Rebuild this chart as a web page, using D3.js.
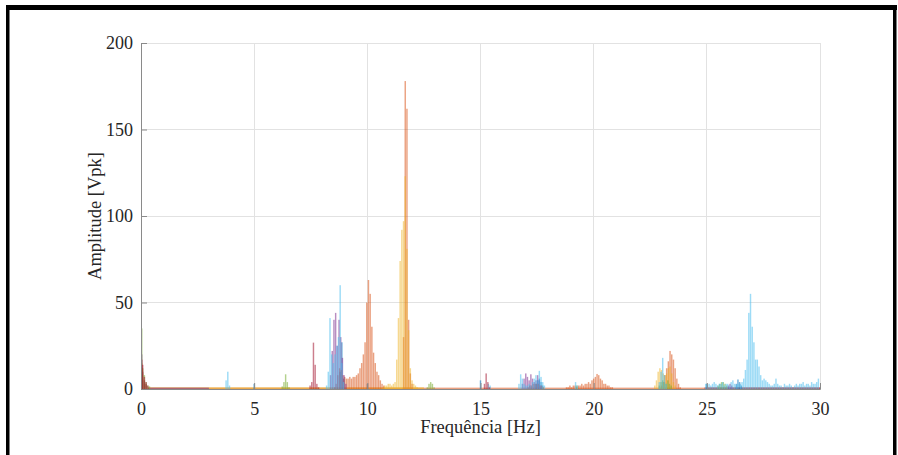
<!DOCTYPE html>
<html>
<head>
<meta charset="utf-8">
<script src="https://cdn.jsdelivr.net/npm/d3@7"></script>
<style>
  html, body { margin: 0; padding: 0; background: #fff; }
  svg { display: block; }
  text { font-family: "Liberation Serif", "DejaVu Serif", serif; fill: #262626; }
</style>
</head>
<body>
<svg id="chart" width="898" height="455"></svg>
<script>
// Spectrum bin spacing (Hz)
const freqStep = 0.075;

// Axis ticks
const xTicks = [0, 5, 10, 15, 20, 25, 30];
const yTicks = [0, 50, 100, 150, 200];

// Each series: list of [start frequency (Hz), amplitudes (Vpk) at consecutive bins]
const blueSegs = [
  [5.0, [3]], [10.0, [3]], [15.0, [5]],
  [8.8, [10, 27, 6]],
  [17.45, [3, 5, 6, 4, 2]],
  [25.0, [3]],
  [26.3, [3, 5.5, 4, 2]]
];
const orangeSegs = [
  [0, [12, 6, 3, 2]],
  [8.55, [1, 3, 8, 12, 11, 8, 7, 6, 6, 7, 6, 7, 7, 8, 9, 12, 15, 20, 27, 50, 63, 55, 36, 21, 15, 10, 8, 5, 3, 2]],
  [11.6, [30, 178, 162, 40, 9, 3]],
  [17.1, [1, 2, 2, 3, 3, 3, 3, 2, 2, 1]],
  [18.8, [1, 1, 2, 1, 2, 2, 1, 2, 2, 3, 2, 3, 3, 4, 3, 5, 6, 7, 8.7, 8, 6, 5, 3, 3, 2, 2, 1, 1]],
  [23.0, [2, 4, 8, 12, 16, 22, 20, 17, 12, 6, 3, 1]]
];
const yellowSegs = [
  [0, [15, 9, 5, 3]],
  [10.7, [1, 2, 2, 3, 3, 2, 3, 4, 17, 41, 74, 92, 97, 123, 81, 34, 12, 5, 3, 2, 1]],
  [22.7, [2, 5, 10, 12, 11, 9, 8, 9, 12, 13, 9, 4, 2]]
];
const purpleSegs = [
  [0, [20, 10, 5, 3]],
  [8.375, [8, 22, 40, 44, 25, 40, 30, 18, 8, 3]],
  [16.85, [3, 6, 9, 7, 5, 8.5, 6, 4, 5, 8, 5, 2]],
  [25.95, [2, 3, 2]]
];
const greenSegs = [
  [0, [35, 12, 8, 4, 2, 1.5]],
  [6.24, [1.5, 4, 8.5, 4, 1]],
  [12.65, [1, 3, 4, 3, 1]],
  [19.25, [2]],
  [22.9, [2, 4, 5, 4, 3, 5, 3, 2]],
  [25.5, [2, 3, 4, 4, 3, 2]]
];
const lightBlueSegs = [
  [3.76, [5, 10, 2]],
  [8.2, [2, 10, 41, 20, 15, 20, 25, 30, 60, 15, 4]],
  [15.35, [3, 2]],
  [16.7, [3, 8.5, 6, 3, 2, 2, 3, 2, 4, 6, 8, 5, 10.5, 7, 4, 2]],
  [19.2, [4, 2]],
  [22.9, [4, 10, 18, 8, 3]],
  [24.95, [3, 2, 3, 2, 3, 4, 3, 2, 3, 3, 4, 2, 3, 3, 2, 4, 5, 3, 2, 3]],
  [26.48, [3, 4, 6, 11, 17, 44, 55, 36, 27, 17, 17, 13, 8, 5, 6, 5, 4, 3]],
  [27.83, [2, 2, 3, 6, 3, 2, 2, 1, 3, 2, 2, 3, 2, 1, 2, 3, 2, 3, 3, 4, 2, 3, 3, 2, 4, 3, 3, 4, 6]]
];
const darkRedSegs = [
  [0, [17, 14, 7, 4, 2]],
  [7.47, [2, 4, 26.8, 14, 3, 1]],
  [15.175, [3, 9, 4, 1]]
];

// Broadband noise floor per series: [series index, from Hz, to Hz, level Vpk]
const noiseFloor = [
  [1, 0.3, 30, 0.8],
  [2, 0.3, 12.5, 1.0],
  [3, 0.3, 3, 0.8],
  [6, 24.9, 30, 1.0]
];

const seriesSegs = [blueSegs, orangeSegs, yellowSegs, purpleSegs, greenSegs, lightBlueSegs, darkRedSegs];
const seriesColors = ["#0072BD", "#D95319", "#EDB120", "#7E2F8E", "#77AC30", "#4DBEEE", "#A2142F"];

const svg = d3.select("#chart");

// Outer frame
const frame = svg.append("g");
frame.append("rect").attr("x", 6).attr("y", 5).attr("width", 891).attr("height", 5).attr("fill", "#000");
frame.append("rect").attr("x", 6).attr("y", 5).attr("width", 3.5).attr("height", 450).attr("fill", "#000");
frame.append("rect").attr("x", 893).attr("y", 5).attr("width", 3.5).attr("height", 450).attr("fill", "#000");

const plotL = 141, plotR = 820, plotT = 43, plotB = 389;
const x = d3.scaleLinear().domain([0, 30]).range([plotL, plotR]);
const y = d3.scaleLinear().domain([0, 200]).range([plotB, plotT]);

// Grid
const grid = svg.append("g");
grid.selectAll("line.gx").data(xTicks.filter(d => d > 0)).join("line")
  .attr("x1", d => x(d)).attr("x2", d => x(d)).attr("y1", plotT).attr("y2", plotB)
  .attr("stroke", "#e2e2e2").attr("stroke-width", 1).attr("shape-rendering", "crispEdges");
grid.selectAll("line.gy").data(yTicks.filter(d => d > 0)).join("line")
  .attr("y1", d => y(d)).attr("y2", d => y(d)).attr("x1", plotL).attr("x2", plotR)
  .attr("stroke", "#e2e2e2").attr("stroke-width", 1).attr("shape-rendering", "crispEdges");

// Bars
const barW = x(freqStep * 0.85) - x(0);
const plot = svg.append("g");
noiseFloor.forEach(([si, f0, f1, lvl]) => {
  plot.append("rect")
    .attr("x", x(f0)).attr("width", x(f1) - x(f0))
    .attr("y", y(lvl)).attr("height", y(0) - y(lvl))
    .attr("fill", seriesColors[si]).attr("fill-opacity", 0.55);
});
seriesSegs.forEach((segs, si) => {
  const pts = [];
  segs.forEach(([f0, vals]) => vals.forEach((v, i) => pts.push({ f: f0 + i * freqStep, v })));
  plot.append("g").selectAll("rect").data(pts).join("rect")
    .attr("x", d => Math.max(plotL, x(d.f) - barW / 2))
    .attr("width", barW)
    .attr("y", d => y(d.v))
    .attr("height", d => y(0) - y(d.v))
    .attr("fill", seriesColors[si])
    .attr("fill-opacity", si === 2 ? 0.5 : 0.55);
});

// Axes (ticks pointing inward)
const axisColor = "#8a8a8a";
const xAxis = svg.append("g").attr("transform", `translate(0,${plotB})`)
  .call(d3.axisBottom(x).tickValues(xTicks).tickSize(-6).tickPadding(13).tickFormat(d3.format("d")));
const yAxis = svg.append("g").attr("transform", `translate(${plotL},0)`)
  .call(d3.axisLeft(y).tickValues(yTicks).tickSize(-6).tickPadding(8).tickFormat(d3.format("d")));
[xAxis, yAxis].forEach(a => {
  a.select(".domain").attr("stroke", axisColor);
  a.selectAll(".tick line").attr("stroke", axisColor);
  a.selectAll(".tick text").attr("fill", "#262626")
    .style("font-family", '"Liberation Serif", serif').style("font-size", "18px");
});

// Axis titles
svg.append("text").attr("x", (plotL + plotR) / 2).attr("y", 433)
  .attr("text-anchor", "middle").style("font-size", "18.5px").text("Frequência [Hz]");
svg.append("text").attr("transform", `translate(101,${(plotT + plotB) / 2}) rotate(-90)`)
  .attr("text-anchor", "middle").style("font-size", "18.5px").text("Amplitude [Vpk]");
</script>
</body>
</html>
